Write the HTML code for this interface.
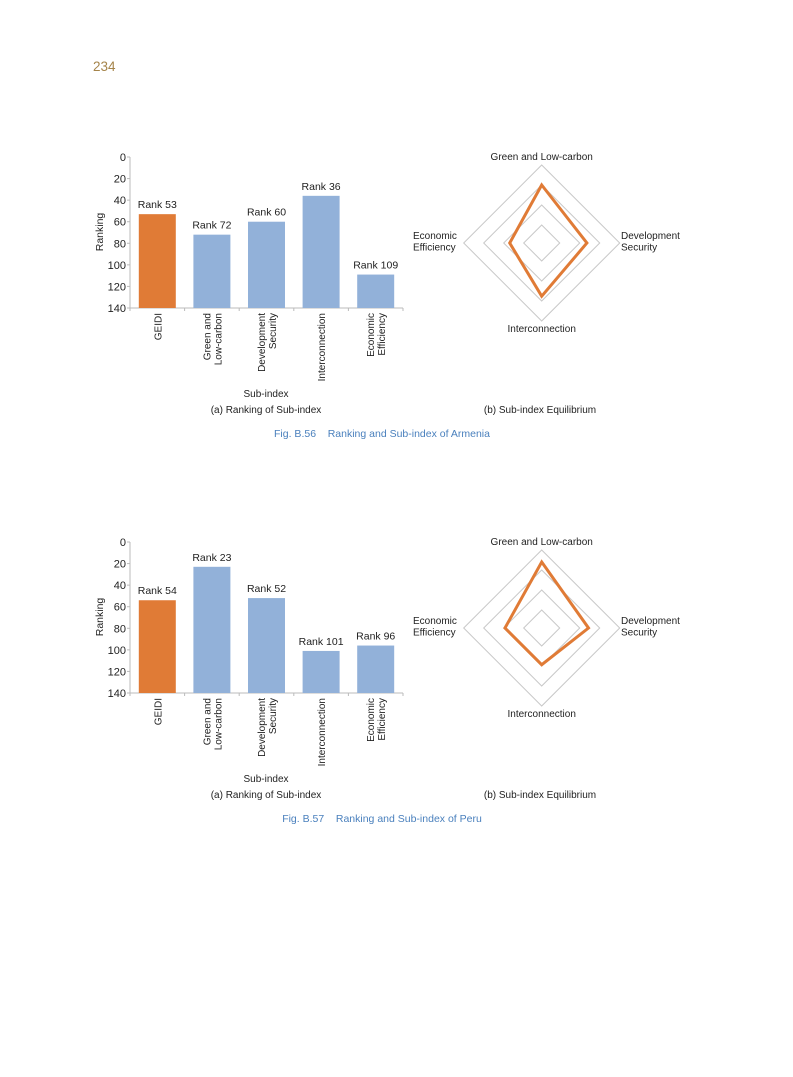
<!DOCTYPE html>
<html><head><meta charset="utf-8"><style>
html,body{margin:0;padding:0;background:#fff}
svg{display:block;font-family:"Liberation Sans",Arial,sans-serif}
</style></head><body>
<svg id="page" width="793" height="1077" viewBox="0 0 793 1077">
<text x="93" y="71" font-size="13.5" fill="#a5844a">234</text>
</svg>
<script>
const categories = ["GEIDI", "Green and|Low-carbon", "Development|Security", "Interconnection", "Economic|Efficiency"];
const yTicks = [0, 20, 40, 60, 80, 100, 120, 140];
const armeniaRanks = [53, 72, 60, 36, 109];
const peruRanks = [54, 23, 52, 101, 96];
const radarAxes = ["Green and Low-carbon", "Development Security", "Interconnection", "Economic Efficiency"];
const radarRings = [25, 50, 75, 100];
const armeniaRadar = [75, 59, 69, 42.5];
const peruRadar = [85, 61, 48.4, 48.4];
const figTitles = ["Fig. B.56\u00a0\u00a0\u00a0\u00a0Ranking and Sub-index of Armenia", "Fig. B.57\u00a0\u00a0\u00a0\u00a0Ranking and Sub-index of Peru"];

const NS = "http://www.w3.org/2000/svg";
const svg = document.getElementById("page");
function mk(tag, attrs, parent, txt) {
  const e = document.createElementNS(NS, tag);
  for (const k in attrs) e.setAttribute(k, attrs[k]);
  if (txt !== undefined) e.textContent = txt;
  (parent || svg).appendChild(e);
  return e;
}

function panel(oy, ranks, radar, title, key) {
  const g = mk("g", {});
  
  
  const y0 = 157 + oy, y1 = 308 + oy, x0 = 130, x1 = 403;
  const ys = v => y0 + (v / 140) * (y1 - y0);
  const band = (x1 - x0) / categories.length;
  const ax = mk("line", {x1: x0, y1: y0, x2: x0, y2: y1, stroke: "#bbb", "stroke-width": 1}, g);
  
  
  const bx = mk("line", {x1: x0, y1: y1, x2: x1, y2: y1, stroke: "#bbb", "stroke-width": 1}, g);
  
  
  yTicks.forEach(t => {
    mk("line", {x1: x0 - 3, y1: ys(t), x2: x0, y2: ys(t), stroke: "#bbb"}, g);
    const tl = mk("text", {x: 126, y: ys(t) + 4, "font-size": 11, "text-anchor": "end", fill: "#222"}, g, t);
    
    
  });
  for (let i = 0; i <= categories.length; i++) mk("line", {x1: x0 + band * i, y1: y1, x2: x0 + band * i, y2: y1 + 3, stroke: "#bbb"}, g);
  const yt = mk("text", {transform: `translate(103,${232 + oy}) rotate(-90)`, "font-size": 10.5, "text-anchor": "middle", fill: "#222"}, g, "Ranking");
  
  
  categories.forEach((c, i) => {
    const cx = x0 + band * (i + 0.5);
    const bar = mk("rect", {x: cx - 18.5, y: ys(ranks[i]), width: 37, height: y1 - ys(ranks[i]), fill: i === 0 ? "#e07b36" : "#92b1d9"}, g);
    
    
    const lbl = mk("text", {x: cx, y: ys(ranks[i]) - 6, "font-size": 10.5, "text-anchor": "middle", fill: "#222"}, g, "Rank " + ranks[i]);
    
    
    const lines = c.split("|");
    lines.forEach((ln, j) => {
      const dx = lines.length === 1 ? 4 : (j === 0 ? -1.5 : 9.5);
      const t = mk("text", {transform: `translate(${cx + dx},${y1 + 5}) rotate(-90)`, "font-size": 10, "text-anchor": "end", fill: "#222"}, g, ln);
      
      
    });
  });
  const xt = mk("text", {x: 266, y: 397 + oy, "font-size": 10, "text-anchor": "middle", fill: "#222"}, g, "Sub-index");
  
  
  const ca = mk("text", {x: 266, y: 413 + oy, "font-size": 10, "text-anchor": "middle", fill: "#222"}, g, "(a) Ranking of Sub-index");
  
  

  const rcx = 541.7, rcy = 243 + oy;
  const rs = v => 0.8 * v - 2;
  const dirs = [[0, -1], [1, 0], [0, 1], [-1, 0]];
  radarRings.forEach(v => {
    const r = rs(v);
    const ring = mk("polygon", {points: dirs.map(d => `${rcx + d[0] * r},${rcy + d[1] * r}`).join(" "), fill: "none", stroke: "#c8c8c8", "stroke-width": 1}, g);
    
    
  });
  const poly = mk("polygon", {points: dirs.map((d, i) => `${rcx + d[0] * rs(radar[i])},${rcy + d[1] * rs(radar[i])}`).join(" "), fill: "none", stroke: "#e07b36", "stroke-width": 3, "stroke-linejoin": "miter"}, g);
  
  
  const labs = [
    [rcx, 160 + oy, "middle", [radarAxes[0]]],
    [621, 239 + oy, "start", ["Development", "Security"]],
    [rcx, 332 + oy, "middle", [radarAxes[2]]],
    [413, 239 + oy, "start", ["Economic", "Efficiency"]]
  ];
  labs.forEach(l => {
    l[3].forEach((s, j) => {
      const t = mk("text", {x: l[0], y: l[1] + j * 11.5, "font-size": 10, "text-anchor": l[2], fill: "#222"}, g, s);
      
      
    });
  });
  const cb = mk("text", {x: 540, y: 413 + oy, "font-size": 10, "text-anchor": "middle", fill: "#222"}, g, "(b) Sub-index Equilibrium");
  
  
  const ft = mk("text", {x: 382, y: 437 + oy, "font-size": 10.5, "text-anchor": "middle", fill: "#4a80bd"}, g, title);
  
  
}
panel(0, armeniaRanks, armeniaRadar, figTitles[0], "armenia");
panel(385, peruRanks, peruRadar, figTitles[1], "peru");
</script>
</body></html>
